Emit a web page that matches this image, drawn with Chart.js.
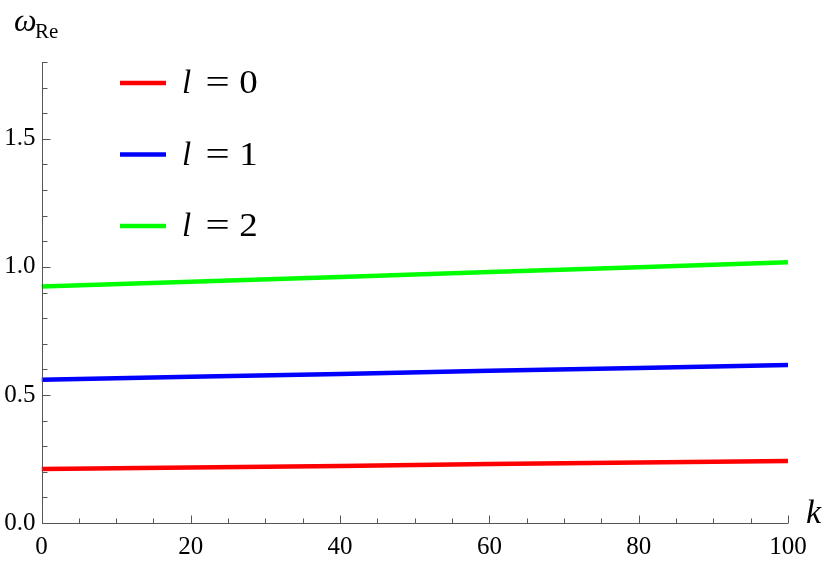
<!DOCTYPE html>
<html>
<head>
<meta charset="utf-8">
<script src="https://cdn.jsdelivr.net/npm/chart.js@4/dist/chart.umd.min.js"></script>
</head>
<body style="margin:0;background:#fff">
<canvas id="c" width="830" height="563"></canvas>
<script>
// ---- data ----
const kValues = [0, 20, 40, 60, 80, 100];
const omegaL0 = [0.211, 0.217, 0.223, 0.230, 0.236, 0.242];
const omegaL1 = [0.559, 0.571, 0.582, 0.594, 0.605, 0.617];
const omegaL2 = [0.923, 0.942, 0.961, 0.980, 0.999, 1.018];
const seriesLabels = ['l = 0', 'l = 1', 'l = 2'];
const seriesColors = ['#ff0000', '#0000ff', '#00ff00'];
const xTickLabels = [0, 20, 40, 60, 80, 100];
const yTickLabels = [0.0, 0.5, 1.0, 1.5];

const SERIF = '"Liberation Serif"';
const AXIS_COLOR = '#555555';

function toPoints(xs, ys){ return xs.map((x,i)=>({x:x, y:ys[i]})); }

const overlay = {
  id: 'overlay',
  afterDraw(chart){
    const ctx = chart.ctx;
    const xs = chart.scales.x, ys = chart.scales.y;
    const ca = chart.chartArea;
    ctx.save();
    // axis lines
    ctx.strokeStyle = AXIS_COLOR;
    ctx.lineWidth = 1;
    const bx = Math.round(ca.left) + 0.5, by = Math.round(ca.bottom) + 0.5;
    ctx.beginPath(); ctx.moveTo(bx, ca.top); ctx.lineTo(bx, by); ctx.lineTo(ca.right, by); ctx.stroke();
    // tick marks (inward)
    for (let i = 0; i <= 18; i++){
      const py = Math.round(ys.getPixelForValue(i/10)) + 0.5;
      const len = (i % 5 === 0) ? 8 : 5;
      ctx.beginPath(); ctx.moveTo(bx, py); ctx.lineTo(bx + len, py); ctx.stroke();
    }
    for (let i = 0; i <= 20; i++){
      const px = Math.round(xs.getPixelForValue(i*5)) + 0.5;
      const len = (i % 4 === 0) ? 8 : 5;
      ctx.beginPath(); ctx.moveTo(px, by); ctx.lineTo(px, by - len); ctx.stroke();
    }
    // axis titles
    ctx.fillStyle = '#000';
    ctx.textBaseline = 'alphabetic';
    ctx.textAlign = 'left';
    ctx.font = 'italic 32px ' + SERIF;
    ctx.fillText('\u03C9', 14, 31);
    ctx.font = '21px ' + SERIF;
    ctx.fillText('Re', 35, 38);
    ctx.font = 'italic 34px ' + SERIF;
    ctx.fillText('k', 806, 523);
    // legend
    chart.data.datasets.forEach((ds, i) => {
      const cy = 83 + i*71.5;
      ctx.strokeStyle = ds.borderColor;
      ctx.lineWidth = 4.5;
      ctx.beginPath(); ctx.moveTo(120, cy); ctx.lineTo(166, cy); ctx.stroke();
      const parts = ds.label.split(' = ');
      ctx.fillStyle = '#000';
      ctx.textBaseline = 'alphabetic';
      ctx.textAlign = 'left';
      ctx.font = 'italic 33px ' + SERIF;
      ctx.fillText(parts[0], 182, cy + 10);
      ctx.font = '33px ' + SERIF;
      ctx.textAlign = 'center';
      ctx.save();
      ctx.translate(217.5, cy + 10);
      ctx.scale(1.3, 1);
      ctx.fillText('=', 0, 0);
      ctx.restore();
      ctx.save();
      ctx.translate(248.5, cy + 10);
      ctx.scale(1.12, 1);
      ctx.fillText(parts[1], 0, 0);
      ctx.restore();
    });
    ctx.restore();
  }
};

new Chart(document.getElementById('c'), {
  type: 'line',
  data: {
    datasets: [
      {label: seriesLabels[0], data: toPoints(kValues, omegaL0), borderColor: seriesColors[0]},
      {label: seriesLabels[1], data: toPoints(kValues, omegaL1), borderColor: seriesColors[1]},
      {label: seriesLabels[2], data: toPoints(kValues, omegaL2), borderColor: seriesColors[2]}
    ].map(d => Object.assign(d, {borderWidth: 4.5, pointRadius: 0, fill: false, tension: 0}))
  },
  options: {
    responsive: false,
    animation: false,
    devicePixelRatio: 1,
    layout: {padding: {left: 0, right: 42, top: 62, bottom: 0}},
    plugins: {legend: {display: false}, tooltip: {enabled: false}},
    scales: {
      x: {
        type: 'linear', min: 0, max: 100,
        afterBuildTicks: s => { s.ticks = xTickLabels.map(v => ({value: v})); },
        afterFit: s => { s.height = 40; },
        grid: {display: false, drawTicks: false},
        border: {display: false},
        ticks: {padding: 9, color: '#000', maxRotation: 0, font: {family: SERIF, size: 25}}
      },
      y: {
        type: 'linear', min: 0, max: 1.8,
        afterBuildTicks: s => { s.ticks = yTickLabels.map(v => ({value: v})); },
        afterFit: s => { s.width = 41.5; },
        grid: {display: false, drawTicks: false},
        border: {display: false},
        ticks: {padding: 6, color: '#000', font: {family: SERIF, size: 25}, callback: v => Number(v).toFixed(1)}
      }
    }
  },
  plugins: [overlay]
});
</script>
</body>
</html>
